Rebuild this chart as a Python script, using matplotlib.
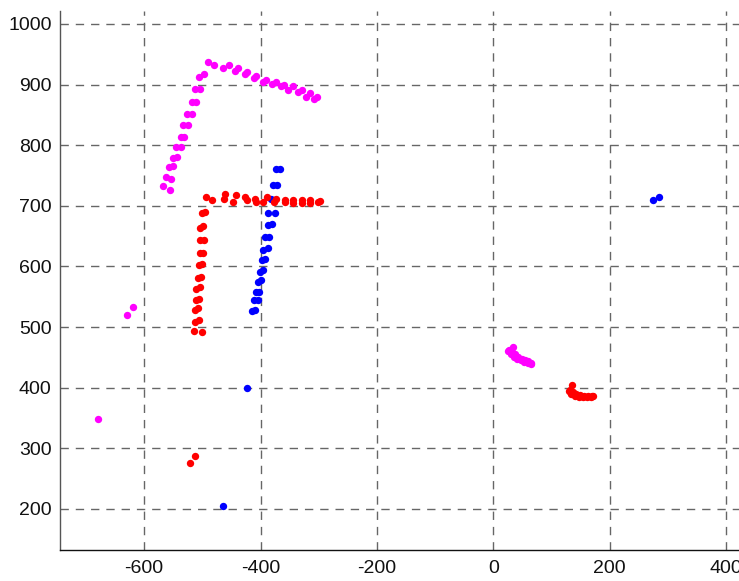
import matplotlib
matplotlib.use("Agg")
import matplotlib.pyplot as plt

plt.rcParams['font.family'] = ['Liberation Sans', 'DejaVu Sans']

# ---- data ----
magenta_x = [-491, -480, -464, -455, -444, -439, -427, -423, -411, -407, -395, -391,
             -381, -373, -365, -360, -352, -345, -335, -329, -322, -315, -308, -303,
             -505, -497, -513, -504, -518, -510, -527, -518, -533, -524, -537, -531,
             -545, -537, -551, -543, -557, -551, -562, -554, -567, -556,
             -630, -619, -680,
             25, 27, 34, 32, 30, 37, 35, 43, 41, 49, 47, 55, 53, 60, 59, 64, 65]
magenta_y = [937, 932, 927, 932, 923, 927, 918, 921, 911, 914, 904, 908,
             901, 905, 898, 899, 891, 897, 887, 891, 880, 886, 877, 880,
             913, 917, 892, 892, 872, 872, 852, 852, 833, 833, 814, 814,
             797, 797, 779, 781, 764, 766, 747, 744, 732, 726,
             520, 533, 348,
             461, 463, 467, 459, 456, 455, 451, 451, 448, 448, 445, 445, 443, 444, 441, 441, 439]

red_x = [-494, -483, -463, -461, -447, -442, -427, -424, -410, -407, -395, -389,
         -376, -373, -358, -358, -344, -344, -329, -328, -315, -315, -301, -297,
         -501, -495, -504, -498, -504, -497, -504, -499, -505, -501, -507, -503,
         -510, -504, -510, -505, -513, -507, -513, -505, -514, -501,
         -521, -513,
         135, 131, 130, 136, 134, 142, 140, 148, 147, 155, 154, 162, 161, 169, 168, 172]
red_y = [714, 710, 711, 719, 707, 718, 714, 710, 711, 707, 706, 714,
         706, 712, 710, 706, 710, 705, 710, 705, 710, 705, 707, 708,
         688, 690, 663, 666, 643, 643, 622, 622, 603, 604, 581, 583,
         563, 566, 545, 546, 529, 532, 509, 512, 494, 492,
         275, 288,
         404, 397, 394, 393, 390, 390, 387, 388, 385, 387, 384, 387, 384, 387, 384, 386]

blue_x = [-374, -367, -378, -371, -382, -376, -387, -375, -388, -381, -392, -385,
          -395, -388, -398, -392, -401, -395, -405, -399, -408, -403, -412, -405,
          -414, -410,
          -423, -464,
          275, 284]
blue_y = [760, 760, 734, 734, 712, 710, 688, 689, 668, 670, 648, 648,
          627, 630, 610, 612, 591, 594, 575, 577, 558, 558, 544, 545,
          526, 529,
          400, 205,
          710, 714]

x_ticks = [-600, -400, -200, 0, 200, 400]
y_ticks = [200, 300, 400, 500, 600, 700, 800, 900, 1000]

# ---- figure ----
W, H = 739, 581
fig = plt.figure(figsize=(W / 100, H / 100), dpi=100)
ax = fig.add_axes([60 / W, (H - 550) / H, (W - 60) / W, (550 - 11) / H])

ms = 5.3
ax.plot(blue_x, blue_y, 'o', color=(0, 0, 1), ms=ms, mec='none', zorder=3)
ax.plot(red_x, red_y, 'o', color=(1, 0, 0), ms=ms, mec='none', zorder=4)
ax.plot(magenta_x, magenta_y, 'o', color=(1, 0, 1), ms=ms, mec='none', zorder=5)

ax.set_xlim(-744.5, 422)
ax.set_ylim(132.3, 1021.4)
ax.set_xticks(x_ticks)
ax.set_yticks(y_ticks)
ax.set_xticklabels([str(v) for v in x_ticks])
ax.set_yticklabels([str(v) for v in y_ticks])

ax.grid(True, color='#666666', linestyle=(0, (6, 5)), linewidth=1.0)
ax.set_axisbelow(True)

ax.spines['top'].set_visible(False)
ax.spines['right'].set_visible(False)
ax.spines['left'].set_color('#555555')
ax.spines['left'].set_linewidth(1.0)
ax.spines['bottom'].set_color('#111111')
ax.spines['bottom'].set_linewidth(1.0)

ax.tick_params(axis='both', direction='in', length=0, labelsize=14, colors='#111111')
ax.tick_params(axis='x', pad=7)
ax.tick_params(axis='y', pad=6)

fig.savefig('out.png', dpi=100)
